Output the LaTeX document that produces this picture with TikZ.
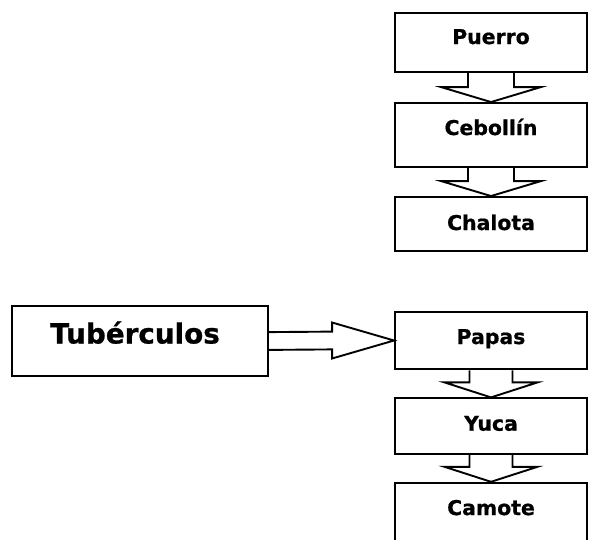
\documentclass[tikz,border=0pt]{standalone}
\usepackage{fontspec}
\setmainfont{DejaVu Sans}[BoldFeatures={FakeBold=0.8}]
\usetikzlibrary{calc}
\begin{document}
\begin{tikzpicture}[x=1pt,y=-1pt,
  lw/.style={line width=1.9pt},
  vbox/.style={lw, draw, rectangle, inner sep=0pt, minimum width=192pt,
    text height=15pt, font=\fontsize{20.4}{24}\selectfont\bfseries},
  tbox/.style={lw, draw, rectangle, inner sep=0pt, minimum width=256pt,
    minimum height=70pt, text height=20pt, text depth=15pt,
    font=\fontsize{27.8}{32}\selectfont\bfseries},
  blk/.style={lw, draw, line join=miter}]
\useasboundingbox (0,0) rectangle (591,539);
\clip (0,0) rectangle (591,539);
\fill[white] (0,0) rectangle (591,539);
% top group
\node[vbox, minimum height=59pt, text depth=12pt] (puerro) at (491,42.5) {Puerro};
\node[vbox, minimum height=64pt, text depth=15pt] (cebollin) at (491,135) {Cebollín};
\node[vbox, minimum height=54pt, text depth=3pt] (chalota) at (491,224) {Chalota};
% bottom group
\node[tbox] (tub) at (140,341) {Tubérculos\hspace*{10pt}};
\node[vbox, minimum height=57.6pt, text depth=8pt] (papas) at (491,340.5) {Papas};
\node[vbox, minimum height=55.7pt, text depth=6pt] (yuca) at (491,426.2) {Yuca};
\node[vbox, minimum height=60.3pt, text depth=10.7pt] (camote) at (491,512.9) {Camote};
% down block arrows (top)
\foreach \a/\b in {puerro/cebollin, cebollin/chalota}{
  \draw[blk] ($(\a.south)+(-23,0)$) -- ($(\b.north)+(-23,-15)$) -- ($(\b.north)+(-50,-15)$)
    -- (\b.north) -- ($(\b.north)+(50,-15)$) -- ($(\b.north)+(23,-15)$) -- ($(\a.south)+(23,0)$);
}
% down block arrows (bottom)
\foreach \a/\b in {papas/yuca, yuca/camote}{
  \draw[blk] ($(\a.south)+(-21.5,0)$) -- ($(\b.north)+(-21.5,-15)$) -- ($(\b.north)+(-46.5,-15)$)
    -- (\b.north) -- ($(\b.north)+(46.5,-15)$) -- ($(\b.north)+(21.5,-15)$) -- ($(\a.south)+(21.5,0)$);
}
% right block arrow
\draw[blk] ($(tub.east)+(0,-8.9)$) -- ($(papas.west)+(-62,-8.9)$) -- ($(papas.west)+(-62,-18)$)
  -- (papas.west) -- ($(papas.west)+(-62,18)$) -- ($(papas.west)+(-62,8.9)$) -- ($(tub.east)+(0,8.9)$);
\end{tikzpicture}
\end{document}
